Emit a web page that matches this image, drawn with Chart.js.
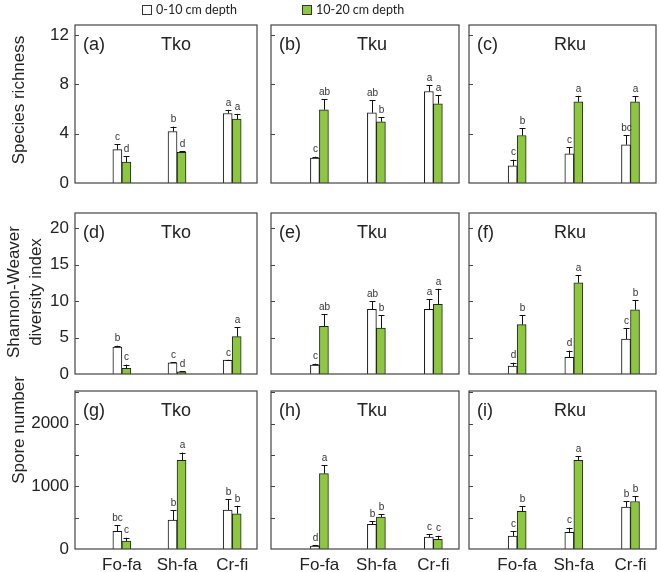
<!DOCTYPE html>
<html>
<head>
<meta charset="utf-8">
<script src="https://cdn.jsdelivr.net/npm/chart.js@4.4.1/dist/chart.umd.min.js"></script>
<style>
  body { margin: 0; background: #fff; }
  #fig { position: relative; width: 660px; height: 572px; overflow: hidden; color: #222; font-family: Arial, "Liberation Sans", sans-serif; }
  #fig canvas { position: absolute; }
  .key { position: absolute; top: 1px; font: 12.5px Lato, "Open Sans", sans-serif; line-height: 18px; white-space: nowrap; }
  .key i { display: inline-block; width: 8px; height: 8px; border: 1px solid #333; margin-right: 4px; vertical-align: -1px; }
  .ytitle { position: absolute; white-space: nowrap; font-size: 17px; line-height: 19px; text-align: center; transform: translate(-50%, -50%) rotate(-90deg); }
</style>
</head>
<body>
<div id="fig"></div>
<script>
// ---- data ----
const sites = ['Tko', 'Tku', 'Rku'];
const panelTags = [['(a)', '(b)', '(c)'], ['(d)', '(e)', '(f)'], ['(g)', '(h)', '(i)']];
const categories = ['Fo-fa', 'Sh-fa', 'Cr-fi'];
const depthNames = ['0-10 cm depth', '10-20 cm depth'];
const metricTitles = [['Species richness'], ['Shannon-Weaver', 'diversity index'], ['Spore number']];

// species richness, [site][category]
const richTop = [[2.7, 4.17, 5.63], [2.02, 5.69, 7.41], [1.4, 2.37, 3.1]];
const richTopErr = [[0.45, 0.4, 0.3], [0.11, 1.02, 0.49], [0.49, 0.51, 0.75]];
const richTopSig = [['c', 'b', 'a'], ['c', 'ab', 'a'], ['c', 'c', 'bc']];
const richSub = [[1.7, 2.48, 5.18], [5.93, 4.96, 6.42], [3.85, 6.58, 6.58]];
const richSubErr = [[0.45, 0.08, 0.42], [0.87, 0.38, 0.7], [0.6, 0.48, 0.46]];
const richSubSig = [['d', 'd', 'a'], ['ab', 'b', 'a'], ['b', 'a', 'a']];

// Shannon-Weaver diversity index
const shanTop = [[3.7, 1.55, 1.9], [1.23, 8.87, 8.87], [1.1, 2.29, 4.8]];
const shanTopErr = [[0.18, 0.05, 0.05], [0.18, 1.1, 1.38], [0.45, 0.91, 1.47]];
const shanTopSig = [['b', 'c', 'c'], ['c', 'ab', 'a'], ['d', 'd', 'c']];
const shanSub = [[0.78, 0.3, 5.12], [6.54, 6.31, 9.56], [6.77, 12.53, 8.82]];
const shanSubErr = [[0.5, 0.1, 1.28], [1.65, 1.74, 2.14], [1.28, 1.05, 1.33]];
const shanSubSig = [['c', 'd', 'a'], ['ab', 'b', 'a'], ['b', 'a', 'b']];

// spore number
const sporeTop = [[281, 461, 620], [48, 393, 191], [207, 265, 668]];
const sporeTopErr = [[96, 159, 170], [16, 52, 43], [74, 74, 95]];
const sporeTopSig = [['bc', 'b', 'b'], ['d', 'b', 'c'], ['c', 'c', 'b']];
const sporeSub = [[127, 1415, 561], [1203, 509, 154], [599, 1415, 758]];
const sporeSubErr = [[53, 122, 127], [132, 47, 58], [85, 63, 85]];
const sporeSubSig = [['c', 'a', 'b'], ['a', 'b', 'c'], ['b', 'a', 'b']];

const yMaxes = [12.8, 22.1, 2520];
const yLabelSteps = [4, 5, 1000];
const yMarkSteps = [4, 5, 500];

const rows = [
    { top: richTop, topErr: richTopErr, topSig: richTopSig, sub: richSub, subErr: richSubErr, subSig: richSubSig },
    { top: shanTop, topErr: shanTopErr, topSig: shanTopSig, sub: shanSub, subErr: shanSubErr, subSig: shanSubSig },
    { top: sporeTop, topErr: sporeTopErr, topSig: sporeTopSig, sub: sporeSub, subErr: sporeSubErr, subSig: sporeSubSig }
];

// ---- layout ----
const colCanvas = [[0, 262], [262, 462], [462, 660]];
const colPlot = [[75, 257], [271, 459], [469, 656]];
const rowCanvas = [[15, 193], [193, 380], [380, 572]];
const rowPlot = [[25, 183], [213, 374], [391, 549]];

const GREEN = '#8dc63f';
const fig = document.getElementById('fig');

// error bars, letters, box, inner ticks, panel labels
const panelDecor = {
    id: 'panelDecor',
    afterDatasetsDraw(chart) {
        const ctx = chart.ctx;
        const ys = chart.scales.y;
        ctx.save();
        ctx.strokeStyle = '#111';
        ctx.lineWidth = 1;
        ctx.fillStyle = '#333';
        ctx.font = '10px Arial, "Liberation Sans", sans-serif';
        ctx.textAlign = 'center';
        ctx.textBaseline = 'bottom';
        chart.data.datasets.forEach((ds, i) => {
            chart.getDatasetMeta(i).data.forEach((bar, j) => {
                const v = ds.data[j].y;
                const yTop = ys.getPixelForValue(v + ds.err[j]);
                const x = Math.round(bar.x) + 0.5;
                ctx.beginPath();
                ctx.moveTo(x, bar.y);
                ctx.lineTo(x, yTop);
                ctx.moveTo(x - 3, Math.round(yTop) + 0.5);
                ctx.lineTo(x + 3, Math.round(yTop) + 0.5);
                ctx.stroke();
                ctx.fillText(ds.sig[j], x, yTop - 2);
            });
        });
        ctx.restore();
    },
    afterDraw(chart) {
        const ctx = chart.ctx;
        const a = chart.chartArea;
        const ys = chart.scales.y;
        const o = chart.options.plugins.panelDecor;
        ctx.save();
        ctx.strokeStyle = '#444';
        ctx.lineWidth = 1.2;
        ctx.strokeRect(a.left, a.top, a.right - a.left, a.bottom - a.top);
        ctx.lineWidth = 1;
        for (let v = o.markStep; v < ys.max; v += o.markStep) {
            const y = Math.round(ys.getPixelForValue(v)) + 0.5;
            ctx.beginPath();
            ctx.moveTo(a.left, y);
            ctx.lineTo(a.left + 4, y);
            ctx.stroke();
        }
        ctx.fillStyle = '#222';
        ctx.font = '18px Arial, "Liberation Sans", sans-serif';
        ctx.textBaseline = 'middle';
        ctx.textAlign = 'left';
        ctx.fillText(o.tag, a.left + 8, a.top + 20);
        ctx.textAlign = 'center';
        ctx.fillText(o.site, a.left + 101, a.top + 20);
        ctx.restore();
    }
};

function makePanel(r, c) {
    const [cx0, cx1] = colCanvas[c];
    const [ry0, ry1] = rowCanvas[r];
    const [px0, px1] = colPlot[c];
    const [py0, py1] = rowPlot[r];
    const canvas = document.createElement('canvas');
    canvas.width = cx1 - cx0;
    canvas.height = ry1 - ry0;
    canvas.style.left = cx0 + 'px';
    canvas.style.top = ry0 + 'px';
    fig.appendChild(canvas);

    const d = rows[r];
    const toPoints = vals => vals.map((v, k) => ({ x: k + 1, y: v }));
    const yw = px0 - cx0;
    const xh = ry1 - py1;

    new Chart(canvas, {
        type: 'bar',
        data: {
            datasets: [
                {
                    label: depthNames[0],
                    data: toPoints(d.top[c]),
                    err: d.topErr[c],
                    sig: d.topSig[c],
                    backgroundColor: '#fff',
                    borderColor: '#111',
                    borderWidth: 1,
                    barThickness: 9
                },
                {
                    label: depthNames[1],
                    data: toPoints(d.sub[c]),
                    err: d.subErr[c],
                    sig: d.subSig[c],
                    backgroundColor: GREEN,
                    borderColor: '#222',
                    borderWidth: 1,
                    barThickness: 9
                }
            ]
        },
        options: {
            responsive: false,
            animation: false,
            layout: { padding: { top: py0 - ry0, right: cx1 - px1, left: 0, bottom: 0 } },
            scales: {
                x: {
                    type: 'linear',
                    offset: false,
                    min: 0.15,
                    max: 3.45,
                    grid: { display: false, offset: false, drawTicks: false },
                    border: { display: false },
                    afterBuildTicks: s => { s.ticks = [1, 2, 3].map(v => ({ value: v })); },
                    afterFit: s => { s.height = xh; s.paddingLeft = 0; s.paddingRight = 0; },
                    ticks: {
                        display: r === 2,
                        autoSkip: false,
                        padding: 6,
                        color: '#222',
                        font: { family: 'Arial, "Liberation Sans", sans-serif', size: 17 },
                        maxRotation: 0,
                        callback: v => categories[v - 1]
                    }
                },
                y: {
                    min: 0,
                    max: yMaxes[r],
                    grid: { display: false, drawTicks: false },
                    border: { display: false },
                    afterBuildTicks: s => {
                        const t = [];
                        for (let v = 0; v <= yMaxes[r]; v += yLabelSteps[r]) t.push({ value: v });
                        s.ticks = t;
                    },
                    afterFit: s => { s.width = yw; s.paddingTop = 0; s.paddingBottom = 0; },
                    ticks: {
                        display: c === 0,
                        autoSkip: false,
                        padding: 6,
                        color: '#222',
                        font: { family: 'Arial, "Liberation Sans", sans-serif', size: 17 },
                        callback: v => String(v)
                    }
                }
            },
            plugins: {
                legend: { display: false },
                tooltip: { enabled: false },
                panelDecor: { tag: panelTags[r][c], site: sites[c], markStep: yMarkSteps[r] }
            }
        },
        plugins: [panelDecor]
    });
}

for (let r = 0; r < 3; r++) {
    for (let c = 0; c < 3; c++) makePanel(r, c);
}

// legend
const keyPos = [142, 302];
depthNames.forEach((name, i) => {
    const el = document.createElement('div');
    el.className = 'key';
    el.style.left = keyPos[i] + 'px';
    el.innerHTML = '<i style="background:' + (i ? GREEN : '#fff') + '"></i>' + name;
    fig.appendChild(el);
});

// y-axis titles
const titleCenters = [[[18, 100]], [[13, 292], [35, 292]], [[18, 430]]];
metricTitles.forEach((lines, r) => {
    lines.forEach((txt, k) => {
        const el = document.createElement('div');
        el.className = 'ytitle';
        el.textContent = txt;
        el.style.left = titleCenters[r][k][0] + 'px';
        el.style.top = titleCenters[r][k][1] + 'px';
        fig.appendChild(el);
    });
});
</script>
</body>
</html>
